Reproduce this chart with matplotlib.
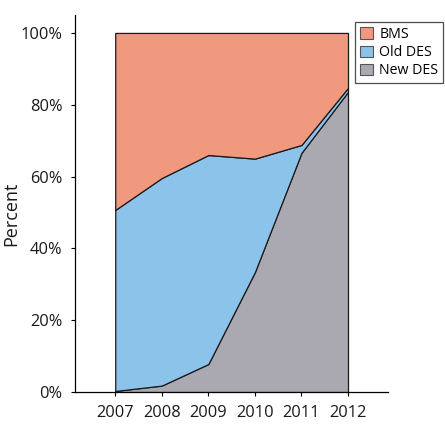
import matplotlib
matplotlib.use("Agg")
import matplotlib.pyplot as plt
from matplotlib.patches import Patch

# dati (percentuali)
years = [2007, 2008, 2009, 2010, 2011, 2012]
new_des = [0.3, 1.8, 7.8, 33.4, 66.6, 83.6]
old_des = [50.4, 57.8, 58.2, 31.6, 2.2, 1.1]
bms = [100 - n - o for n, o in zip(new_des, old_des)]

labels = ["BMS", "Old DES", "New DES"]
colors = {"BMS": "#F0997F", "Old DES": "#8CC3EA", "New DES": "#AAA9B2"}
y_ticks = [0, 20, 40, 60, 80, 100]

plt.rcParams["font.family"] = ["Open Sans", "DejaVu Sans"]

fig = plt.figure(figsize=(4.45, 4.28), dpi=100)
ax = fig.add_axes([0.169, 0.084, 0.703, 0.881])

ax.stackplot(years, new_des, old_des, bms,
             colors=[colors["New DES"], colors["Old DES"], colors["BMS"]],
             edgecolor="#1a1a1a", linewidth=0.9)

ax.set_xlim(2006.14, 2012.86)
ax.set_ylim(0, 105)
ax.set_xticks(years)
ax.set_xticklabels([str(y) for y in years], fontsize=11.8, color="#1a1a1a")
ax.set_yticks(y_ticks)
ax.set_yticklabels([f"{t}%" for t in y_ticks], fontsize=11.8, color="#1a1a1a")
ax.tick_params(axis="x", length=3, width=0.8, pad=6)
ax.tick_params(axis="y", length=3, width=0.8, pad=6)

for s in ["top", "right"]:
    ax.spines[s].set_visible(False)
for s in ["left", "bottom"]:
    ax.spines[s].set_linewidth(0.9)

fig.text(0.026, 0.5, "Percent", rotation=90, va="center", ha="center",
         fontsize=13, color="#1a1a1a")

handles = [Patch(facecolor=colors[l], edgecolor="#555555", linewidth=0.8, label=l) for l in labels]
leg = fig.legend(handles=handles, loc="upper right", bbox_to_anchor=(0.996, 0.948),
                 fontsize=10.2, frameon=True, fancybox=False, edgecolor="#222222",
                 handlelength=0.9, handleheight=0.9, handletextpad=0.45,
                 borderpad=0.35, labelspacing=0.22, borderaxespad=0)
leg.get_frame().set_linewidth(0.9)

fig.savefig("out.png", dpi=100)
